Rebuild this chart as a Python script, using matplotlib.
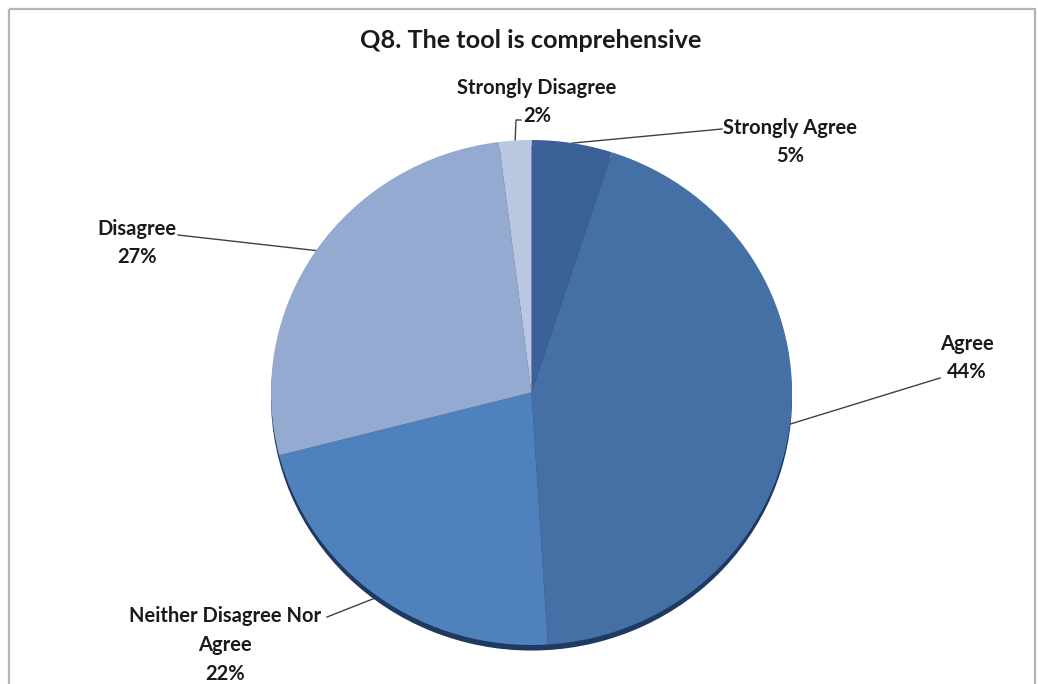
import numpy as np
import matplotlib
matplotlib.use("Agg")
import matplotlib.pyplot as plt
from matplotlib.patches import Rectangle

plt.rcParams.update({"font.family": ["Lato", "DejaVu Sans"], "font.weight": "bold"})

TITLE = "Q8. The tool is comprehensive"
LABELS = ["Strongly Agree", "Agree", "Neither Disagree Nor\nAgree", "Disagree",
          "Strongly Disagree"]
SHARES = [5, 44, 22, 27, 2]
COLORS = ["#3b6198", "#4470a6", "#4f81bd", "#94aad0", "#b9c7e0"]

W, H = 1038, 684
# label anchor (centre of text block) and where the leader meets the text, pixels
TEXT_POS = [(790, 142), (967, 358), (225, 645), (137, 243), (537, 102)]
LEADER_END = [(722, 129), (940, 378), (327, 617), (178, 235), (521, 120)]


def main():
    fig = plt.figure(figsize=(W / 100, H / 100), dpi=100)
    over = fig.add_axes([0, 0, 1, 1])
    over.set_xlim(0, W)
    over.set_ylim(H, 0)
    over.axis("off")
    over.add_patch(Rectangle((8.5, 8.5), 1026, 700, fill=False,
                             edgecolor="#b5b5b5", linewidth=1.6))

    # pie body drawn into an ellipse-shaped box
    left, right, top, bottom = 271, 792, 140, 645
    pax = fig.add_axes([left / W, 1 - bottom / H, (right - left) / W,
                        (bottom - top) / H])
    # dark rim showing below the top face
    pax.pie([1], radius=1.0, center=(0, -0.022), colors=["#1f3a62"],
            startangle=90, wedgeprops={"linewidth": 0})
    wedges, _ = pax.pie(SHARES, colors=COLORS, startangle=90, counterclock=False,
                        wedgeprops={"linewidth": 0})
    pax.set_aspect("auto")
    pax.set_xlim(-1, 1)
    pax.set_ylim(-1, 1)
    pax.axis("off")

    fig.canvas.draw()
    to_over = over.transData.inverted()
    for w, lab, share, (tx, ty), (lx, ly) in zip(wedges, LABELS, SHARES,
                                                 TEXT_POS, LEADER_END):
        mid = np.deg2rad((w.theta1 + w.theta2) / 2)
        px, py = to_over.transform(
            pax.transData.transform((np.cos(mid), np.sin(mid))))
        if lab == "Strongly Disagree":
            over.plot([lx, lx - 5, px], [ly, ly, py], color="#404040", lw=1.0)
        else:
            over.plot([px, lx], [py, ly], color="#404040", lw=1.0)
        over.text(tx, ty, f"{lab}\n{share}%", ha="center", va="center",
                  fontsize=14.5, color="#1a1a1a", linespacing=1.55)

    over.text(531, 41, TITLE, ha="center", va="center", fontsize=18.2,
              color="#1a1a1a")

    fig.savefig("out.png", dpi=100)


if __name__ == "__main__":
    main()
